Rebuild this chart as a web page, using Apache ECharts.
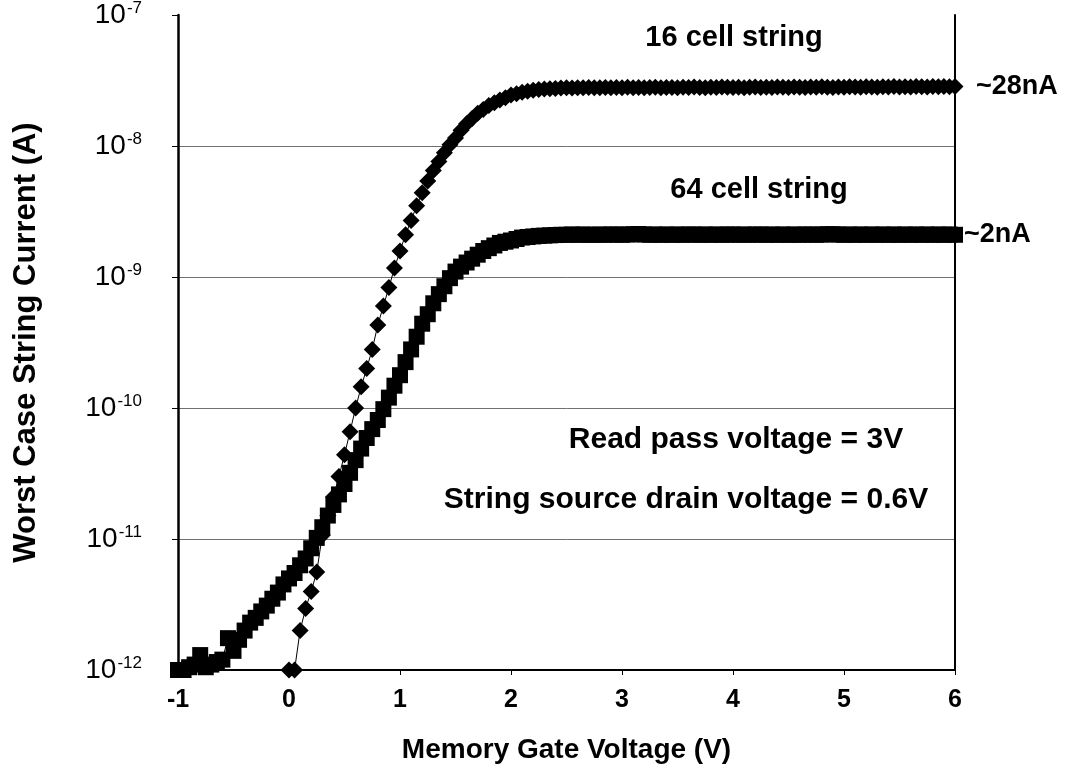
<!DOCTYPE html>
<html>
<head>
<meta charset="utf-8">
<script src="https://cdn.jsdelivr.net/npm/echarts@6/dist/echarts.min.js"></script>
<style>
html, body { margin: 0; padding: 0; background: #fff; }
#main { width: 1070px; height: 772px; }
</style>
</head>
<body>
<div id="main"></div>
<script>
// gate voltage sweep (V)
var gateV = [
  -1, -0.95, -0.9, -0.85, -0.8, -0.75, -0.7, -0.65, -0.6, -0.55,
  -0.5, -0.45, -0.4, -0.35, -0.3, -0.25, -0.2, -0.15, -0.1, -0.05,
  0, 0.05, 0.1, 0.15, 0.2, 0.25, 0.3, 0.35, 0.4, 0.45,
  0.5, 0.55, 0.6, 0.65, 0.7, 0.75, 0.8, 0.85, 0.9, 0.95,
  1, 1.05, 1.1, 1.15, 1.2, 1.25, 1.3, 1.35, 1.4, 1.45,
  1.5, 1.55, 1.6, 1.65, 1.7, 1.75, 1.8, 1.85, 1.9, 1.95,
  2, 2.05, 2.1, 2.15, 2.2, 2.25, 2.3, 2.35, 2.4, 2.45,
  2.5, 2.55, 2.6, 2.65, 2.7, 2.75, 2.8, 2.85, 2.9, 2.95,
  3, 3.05, 3.1, 3.15, 3.2, 3.25, 3.3, 3.35, 3.4, 3.45,
  3.5, 3.55, 3.6, 3.65, 3.7, 3.75, 3.8, 3.85, 3.9, 3.95,
  4, 4.05, 4.1, 4.15, 4.2, 4.25, 4.3, 4.35, 4.4, 4.45,
  4.5, 4.55, 4.6, 4.65, 4.7, 4.75, 4.8, 4.85, 4.9, 4.95,
  5, 5.05, 5.1, 5.15, 5.2, 5.25, 5.3, 5.35, 5.4, 5.45,
  5.5, 5.55, 5.6, 5.65, 5.7, 5.75, 5.8, 5.85, 5.9, 5.95,
  6
];

// 16 cell string current (A), no reading below 0 V
var cell16 = [
  null, null, null, null, null, null, null, null, null, null,
  null, null, null, null, null, null, null, null, null, null,
  1.0e-12, 1.0e-12, 2.0e-12, 2.95e-12, 3.98e-12, 5.6e-12, 1.07e-11, 1.51e-11, 2.09e-11, 3.0e-11,
  4.4e-11, 6.6e-11, 1.0e-10, 1.45e-10, 2.0e-10, 2.8e-10, 4.3e-10, 6.0e-10, 8.3e-10, 1.17e-9,
  1.58e-9, 2.1e-9, 2.7e-9, 3.5e-9, 4.4e-9, 5.4e-9, 6.5e-9, 7.6e-9, 8.9e-9, 1.02e-8,
  1.15e-8, 1.32e-8, 1.48e-8, 1.62e-8, 1.78e-8, 1.9e-8, 2.04e-8, 2.14e-8, 2.24e-8, 2.34e-8,
  2.45e-8, 2.5e-8, 2.57e-8, 2.62e-8, 2.66e-8, 2.7e-8, 2.72e-8, 2.74e-8, 2.75e-8, 2.77e-8,
  2.78e-8, 2.77e-8, 2.79e-8, 2.78e-8, 2.8e-8, 2.79e-8, 2.78e-8, 2.8e-8, 2.79e-8, 2.8e-8,
  2.79e-8, 2.81e-8, 2.79e-8, 2.8e-8, 2.78e-8, 2.8e-8, 2.81e-8, 2.79e-8, 2.8e-8, 2.8e-8,
  2.79e-8, 2.81e-8, 2.8e-8, 2.82e-8, 2.8e-8, 2.79e-8, 2.81e-8, 2.8e-8, 2.82e-8, 2.81e-8,
  2.8e-8, 2.81e-8, 2.79e-8, 2.81e-8, 2.82e-8, 2.8e-8, 2.81e-8, 2.8e-8, 2.82e-8, 2.81e-8,
  2.8e-8, 2.82e-8, 2.81e-8, 2.8e-8, 2.82e-8, 2.81e-8, 2.83e-8, 2.81e-8, 2.8e-8, 2.82e-8,
  2.81e-8, 2.83e-8, 2.82e-8, 2.81e-8, 2.83e-8, 2.82e-8, 2.81e-8, 2.83e-8, 2.82e-8, 2.84e-8,
  2.82e-8, 2.83e-8, 2.82e-8, 2.84e-8, 2.83e-8, 2.82e-8, 2.84e-8, 2.83e-8, 2.84e-8, 2.83e-8,
  2.84e-8
];

// 64 cell string current (A)
var cell64 = [
  1.0e-12, 1.0e-12, 1.05e-12, 1.1e-12, 1.3e-12, 1.05e-12, 1.1e-12, 1.15e-12, 1.2e-12, 1.75e-12,
  1.4e-12, 1.7e-12, 2.0e-12, 2.3e-12, 2.5e-12, 2.8e-12, 3.1e-12, 3.5e-12, 3.9e-12, 4.5e-12,
  5.0e-12, 5.5e-12, 6.3e-12, 7.1e-12, 8.5e-12, 1.02e-11, 1.23e-11, 1.51e-11, 1.82e-11, 2.19e-11,
  2.63e-11, 3.2e-11, 4.0e-11, 4.9e-11, 5.9e-11, 6.9e-11, 8.1e-11, 9.8e-11, 1.2e-10, 1.48e-10,
  1.78e-10, 2.24e-10, 2.8e-10, 3.5e-10, 4.4e-10, 5.2e-10, 6.3e-10, 7.4e-10, 8.5e-10, 9.8e-10,
  1.1e-9, 1.2e-9, 1.29e-9, 1.38e-9, 1.48e-9, 1.58e-9, 1.66e-9, 1.74e-9, 1.82e-9, 1.86e-9,
  1.9e-9, 1.95e-9, 2.0e-9, 2.02e-9, 2.04e-9, 2.06e-9, 2.07e-9, 2.08e-9, 2.09e-9, 2.1e-9,
  2.1e-9, 2.11e-9, 2.1e-9, 2.11e-9, 2.1e-9, 2.1e-9, 2.11e-9, 2.1e-9, 2.11e-9, 2.11e-9,
  2.1e-9, 2.11e-9, 2.12e-9, 2.13e-9, 2.11e-9, 2.1e-9, 2.11e-9, 2.1e-9, 2.11e-9, 2.1e-9,
  2.11e-9, 2.1e-9, 2.11e-9, 2.11e-9, 2.1e-9, 2.11e-9, 2.1e-9, 2.11e-9, 2.1e-9, 2.11e-9,
  2.11e-9, 2.1e-9, 2.11e-9, 2.1e-9, 2.11e-9, 2.11e-9, 2.1e-9, 2.11e-9, 2.1e-9, 2.11e-9,
  2.1e-9, 2.11e-9, 2.1e-9, 2.11e-9, 2.11e-9, 2.1e-9, 2.11e-9, 2.12e-9, 2.12e-9, 2.11e-9,
  2.1e-9, 2.11e-9, 2.1e-9, 2.11e-9, 2.1e-9, 2.11e-9, 2.1e-9, 2.11e-9, 2.1e-9, 2.11e-9,
  2.1e-9, 2.11e-9, 2.1e-9, 2.11e-9, 2.1e-9, 2.11e-9, 2.1e-9, 2.11e-9, 2.1e-9, 2.11e-9,
  2.1e-9
];

var xTicks = [-1, 0, 1, 2, 3, 4, 5, 6];
var yMin = 1e-12, yMax = 1e-7;

function pairs(ys) {
  var out = [];
  for (var i = 0; i < gateV.length; i++) {
    if (ys[i] != null) out.push([gateV[i], ys[i]]);
  }
  return out;
}

var font = 'Liberation Sans, Arial, sans-serif';
var myChart = echarts.init(document.getElementById('main'));

option = {
  backgroundColor: '#fff',
  animation: false,
  grid: { left: 178, right: 115, top: 12, bottom: 102 },
  xAxis: {
    type: 'value',
    min: xTicks[0],
    max: xTicks[xTicks.length - 1],
    interval: 1,
    name: 'Memory Gate Voltage (V)',
    nameLocation: 'middle',
    nameGap: 66,
    nameTextStyle: { fontFamily: font, fontSize: 28, fontWeight: 'bold', color: '#000' },
    axisLine: { show: true, onZero: false, lineStyle: { color: '#000', width: 2 } },
    axisTick: { show: true, inside: false, length: 5, lineStyle: { color: '#000', width: 1 } },
    axisLabel: { fontFamily: font, fontSize: 25, fontWeight: 'bold', color: '#000', margin: 18 },
    splitLine: { show: false }
  },
  yAxis: [{
    type: 'log',
    logBase: 10,
    min: yMin,
    max: yMax,
    name: 'Worst Case String Current (A)',
    nameLocation: 'middle',
    nameGap: 136,
    nameTextStyle: { fontFamily: font, fontSize: 31, fontWeight: 'bold', color: '#000' },
    axisLine: { show: true, onZero: false, lineStyle: { color: '#000', width: 2.5 } },
    axisTick: { show: true, length: 6, lineStyle: { color: '#000', width: 1 } },
    axisLabel: {
      margin: 36,
      formatter: function (v) {
        var e = Math.round(Math.log10(v));
        return '{b|10}{s|' + e + '}';
      },
      rich: {
        b: { fontFamily: font, fontSize: 28, color: '#000', lineHeight: 30 },
        s: { fontFamily: font, fontSize: 17, color: '#000', verticalAlign: 'top', lineHeight: 18, padding: [0, 0, 0, 1] }
      }
    },
    splitLine: { show: true, showMinLine: false, showMaxLine: false, lineStyle: { color: '#707070', width: 1 } },
    minorTick: { show: false }
  }, {
    type: 'log',
    logBase: 10,
    min: yMin,
    max: yMax,
    position: 'right',
    axisLine: { show: true, onZero: false, lineStyle: { color: '#000', width: 2 } },
    axisTick: { show: false },
    axisLabel: { show: false },
    splitLine: { show: false }
  }],
  series: [
    {
      name: '64 cell string',
      type: 'line',
      data: pairs(cell64),
      symbol: 'rect',
      symbolSize: 16,
      showAllSymbol: true,
      clip: false,
      itemStyle: { color: '#000' },
      lineStyle: { color: '#000', width: 1 },
      endLabel: {
        show: true, formatter: '~2nA', distance: 9,
        fontFamily: font, fontSize: 27, fontWeight: 'bold', color: '#000'
      }
    },
    {
      name: '16 cell string',
      type: 'line',
      data: pairs(cell16),
      symbol: 'diamond',
      symbolSize: 17,
      showAllSymbol: true,
      clip: false,
      itemStyle: { color: '#000' },
      lineStyle: { color: '#000', width: 1 },
      endLabel: {
        show: true, formatter: '~28nA', distance: 21,
        fontFamily: font, fontSize: 27, fontWeight: 'bold', color: '#000'
      }
    }
  ],
  graphic: [
    { type: 'text', x: 734, y: 38, style: { text: '16 cell string', font: 'bold 29px ' + font, fill: '#000', align: 'center', verticalAlign: 'middle' } },
    { type: 'text', x: 759, y: 190, style: { text: '64 cell string', font: 'bold 29px ' + font, fill: '#000', align: 'center', verticalAlign: 'middle' } },
    { type: 'text', x: 736, y: 440, style: { text: 'Read pass voltage = 3V', font: 'bold 30px ' + font, fill: '#000', align: 'center', verticalAlign: 'middle' } },
    { type: 'text', x: 686, y: 500, style: { text: 'String source drain voltage = 0.6V', font: 'bold 30px ' + font, fill: '#000', align: 'center', verticalAlign: 'middle' } }
  ]
};

myChart.setOption(option);
</script>
</body>
</html>
